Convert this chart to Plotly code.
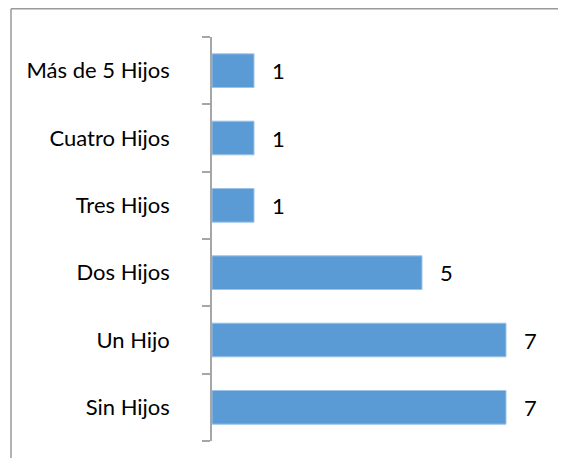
import plotly.graph_objects as go

categories = ["Sin Hijos", "Un Hijo", "Dos Hijos", "Tres Hijos", "Cuatro Hijos", "Más de 5 Hijos"]
values = [7, 7, 5, 1, 1, 1]

# page body has an 8px margin on every side, so the figure is laid out smaller
OFF = 8
W, H = 567 - 2 * OFF, 467 - 2 * OFF
L, T = 212 - OFF, 37 - OFF
R = W - (548 - OFF)
B = H - (441 - OFF)
pw, ph = W - L - R, H - T - B
FONT = "Lato"
FS = 22

fig = go.Figure(go.Bar(
    x=values, y=categories, orientation="h",
    marker=dict(color="#5B9BD5", line=dict(color="#9DC3E6", width=1)),
    width=0.5,
))

for v, c in zip(values, categories):
    fig.add_annotation(x=v, y=c, text=str(v), showarrow=False,
                       xanchor="left", xshift=16,
                       font=dict(family=FONT, size=FS, color="#000000"))

# chart border (top and left edges)
bx = (11 - OFF - L) / pw
by = 1 + (T - 0.8) / ph
fig.add_shape(type="line", xref="paper", yref="paper", x0=bx, x1=1 + (R - 1) / pw,
              y0=by, y1=by, line=dict(color="#9A9A9A", width=1.5))
fig.add_shape(type="line", xref="paper", yref="paper", x0=bx, x1=bx,
              y0=by, y1=-(B - 1) / ph, line=dict(color="#9A9A9A", width=1.5))

fig.update_layout(
    width=W, height=H,
    margin=dict(l=L, r=R, t=T, b=B),
    paper_bgcolor="white", plot_bgcolor="white",
    showlegend=False,
    font=dict(family=FONT, size=FS, color="#000000"),
    xaxis=dict(range=[0, 8], visible=False, showgrid=False, zeroline=False),
    yaxis=dict(type="category", showline=True, linecolor="#A6A6A6", linewidth=1.5,
               ticks="outside", ticklen=8, tickcolor="#A6A6A6", tickwidth=1.5,
               tickson="boundaries", ticklabelstandoff=36,
               tickfont=dict(family=FONT, size=FS, color="#000000"),
               showgrid=False, zeroline=False),
)

fig.write_html("out.html", config={"displayModeBar": False})
